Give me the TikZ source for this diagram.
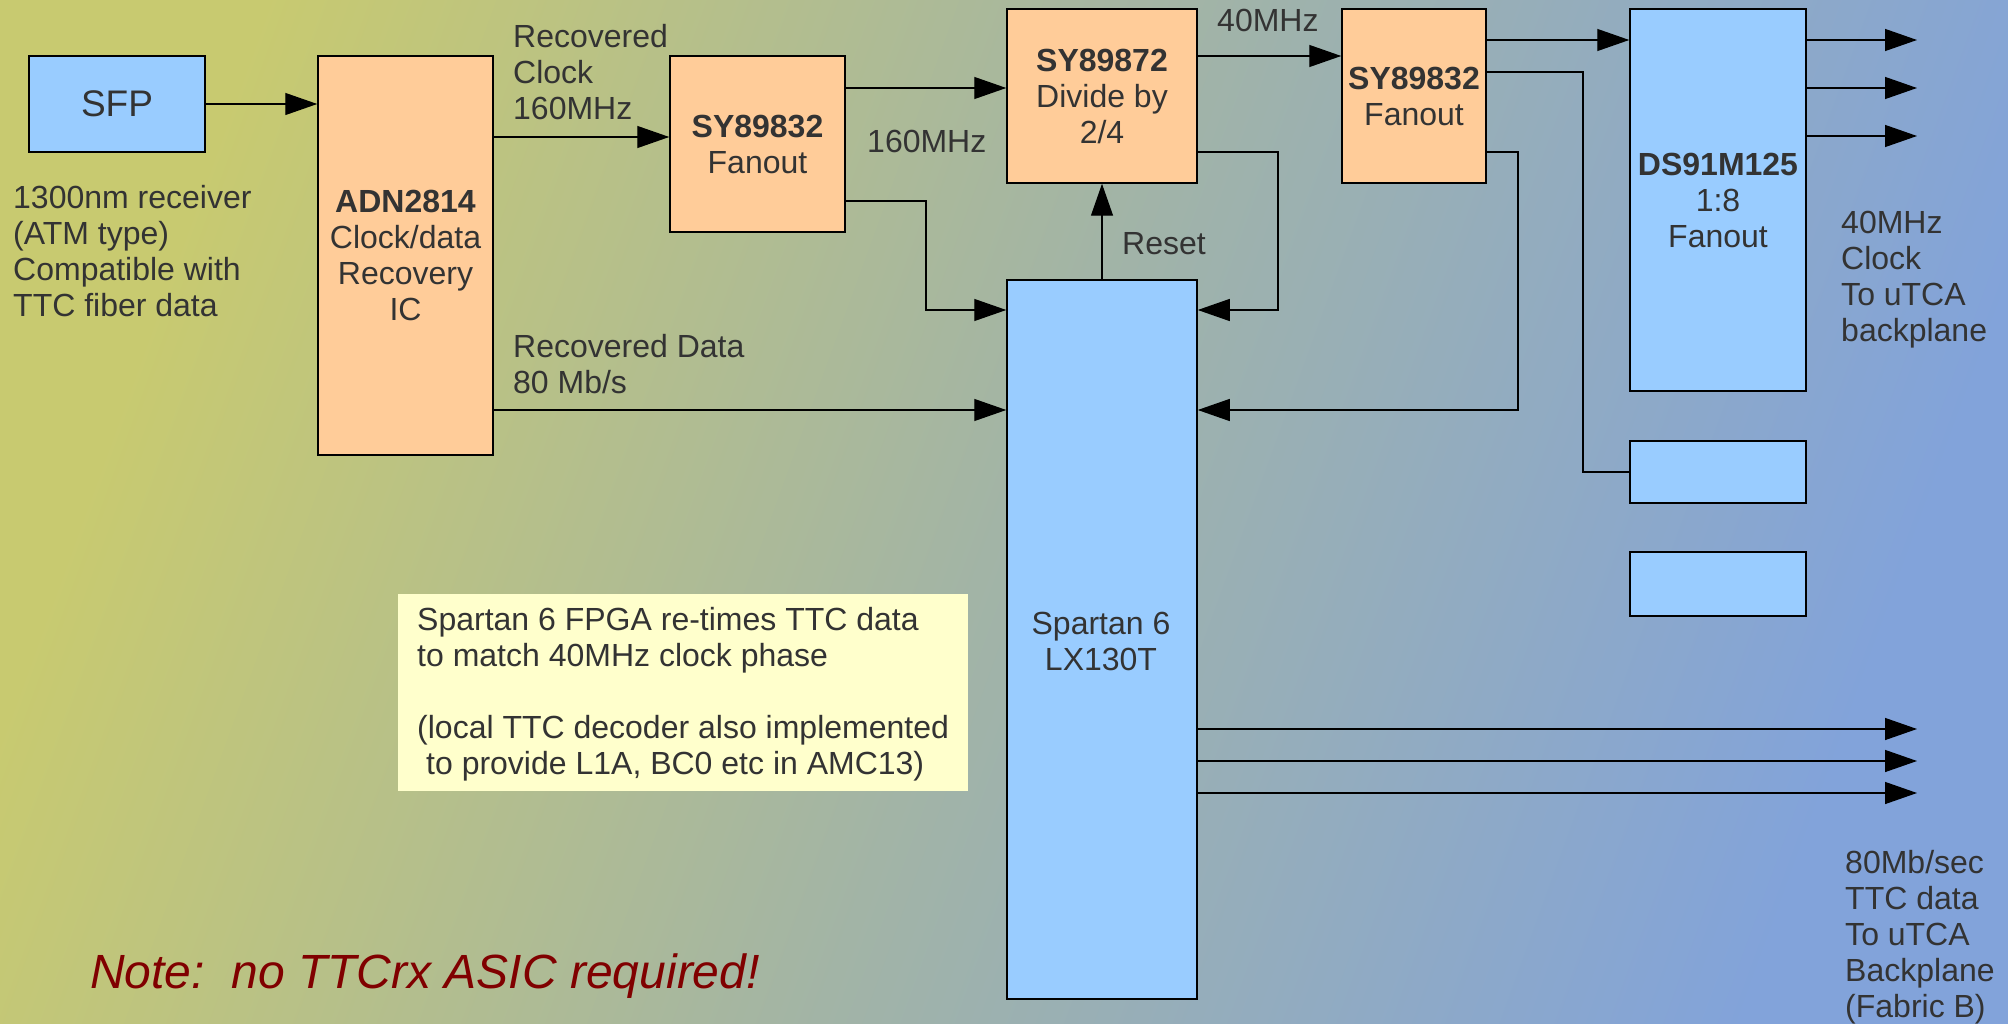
\documentclass[tikz,border=0pt]{standalone}
\usepackage{fontspec}
\setmainfont{Liberation Sans}
\usetikzlibrary{arrows.meta,calc}
\definecolor{orangebox}{HTML}{FFCC99}
\definecolor{bluebox}{HTML}{99CCFF}
\definecolor{notebg}{HTML}{FFFFCC}
\definecolor{txt}{HTML}{333333}
\definecolor{notered}{HTML}{800000}
\definecolor{bgleft}{HTML}{C8CA70}
\definecolor{bgmid}{HTML}{A2B4A6}
\definecolor{bgright}{HTML}{82A3DA}
\begin{document}
\begin{tikzpicture}[x=1pt,y=-1pt,
  every node/.style={text=txt, font=\fontsize{32}{36}\selectfont},
  chip/.style={draw=black, line width=1.5pt, inner sep=0pt, align=center},
  orangechip/.style={chip, fill=orangebox},
  bluechip/.style={chip, fill=bluebox},
  wire/.style={line width=1.3pt, draw=black},
  arr/.style={wire, -{Triangle[length=32pt,width=22pt]}},
  lbl/.style={align=left, inner sep=0pt, anchor=west},
]
\shade[left color=bgleft, right color=bgright, middle color=bgmid, shading angle=70] (0,0) rectangle (2008,1024);
\useasboundingbox (0,0) rectangle (2008,1024);

% chips
\node[bluechip, minimum width=176pt, minimum height=96pt, font=\fontsize{37}{44}\selectfont] (sfp) at (117,104) {SFP};
\node[orangechip, minimum width=175pt, minimum height=399pt] (adn) at (405.5,255.5) {\textbf{ADN2814}\\Clock/data\\Recovery\\IC};
\node[orangechip, minimum width=175pt, minimum height=176pt] (sya) at (757.5,144) {\textbf{SY89832}\\Fanout};
\node[orangechip, minimum width=190pt, minimum height=174pt] (syd) at (1102,96) {\textbf{SY89872}\\Divide by\\2/4};
\node[orangechip, minimum width=144pt, minimum height=174pt] (syb) at (1414,96) {\textbf{SY89832}\\Fanout};
\node[bluechip, minimum width=176pt, minimum height=382pt] (ds) at (1718,200) {\textbf{DS91M125}\\1:8\\Fanout};
\node[bluechip, minimum width=176pt, minimum height=62pt] (sbone) at (1718,472) {};
\node[bluechip, minimum width=176pt, minimum height=64pt] (sbtwo) at (1718,584) {};
\node[bluechip, minimum width=190pt, minimum height=719pt] (fpga) at (1102,639.5) {};
\node[align=center, inner sep=0pt] (fpgalbl) at (1101,641.5) {Spartan 6\\LX130T};

% note box
\node[fill=notebg, minimum width=570pt, minimum height=197pt, inner sep=0pt] (note) at (683,692.5) {};
\node[lbl] (notetext) at (417,694.5) {Spartan 6 FPGA re-times TTC data\\to match 40MHz clock phase\\[36pt](local TTC decoder also implemented\\\hspace*{9pt}to provide L1A, BC0 etc in AMC13)};

% labels
\node[lbl] (sfplbl) at (13,251) {1300nm receiver\\(ATM type)\\Compatible with\\TTC fiber data};
\node[lbl] (rclk) at (513,72.5) {Recovered\\Clock\\160MHz};
\node[lbl] (fhi) at (867,141) {160MHz};
\node[lbl] (flo) at (1217,20) {40MHz};
\node[lbl] (reset) at (1122,244) {Reset};
\node[lbl] (rdata) at (513,364) {Recovered Data\\80 Mb/s};
\node[lbl] (clkout) at (1841,280) {40MHz\\Clock\\To uTCA\\backplane};
\node[lbl] (dataout) at (1845,937) {80Mb/sec\\TTC data\\To uTCA\\Backplane\\(Fabric B)};
\node[lbl, text=notered, font=\fontsize{48}{56}\selectfont\itshape] (notemsg) at (90,976) {Note:\ \ no TTCrx ASIC required!};

% free ends
\coordinate (outend) at (1917,0);

% connectors
\draw[arr] (sfp.east) -- (sfp.east -| adn.west);
\draw[arr] (adn.east |- 0,137) -- (sya.west |- 0,137);
\draw[arr] (sya.east |- 0,88) -- (syd.west |- 0,88);
\draw[arr] (sya.east |- 0,201) -- (926,201) -- (926,310) -- (fpga.west |- 0,310);
\draw[arr] (adn.east |- 0,410) -- (fpga.west |- 0,410);
\draw[arr] (syd.east |- 0,56) -- (syb.west |- 0,56);
\draw[arr] (syd.east |- 0,152) -- (1278,152) -- (1278,310) -- (fpga.east |- 0,310);
\draw[arr] (fpga.north) -- (syd.south);
\draw[arr] (syb.east |- 0,40) -- (ds.west |- 0,40);
\draw[wire] (syb.east |- 0,72) -- (1583,72) -- (1583,472) -- (sbone.west);
\draw[arr] (syb.east |- 0,152) -- (1518,152) -- (1518,410) -- (fpga.east |- 0,410);
\foreach \y in {40,88,136} \draw[arr] (ds.east |- 0,\y) -- (outend |- 0,\y);
\foreach \y in {729,761,793} \draw[arr] (fpga.east |- 0,\y) -- (outend |- 0,\y);
\end{tikzpicture}
\end{document}
